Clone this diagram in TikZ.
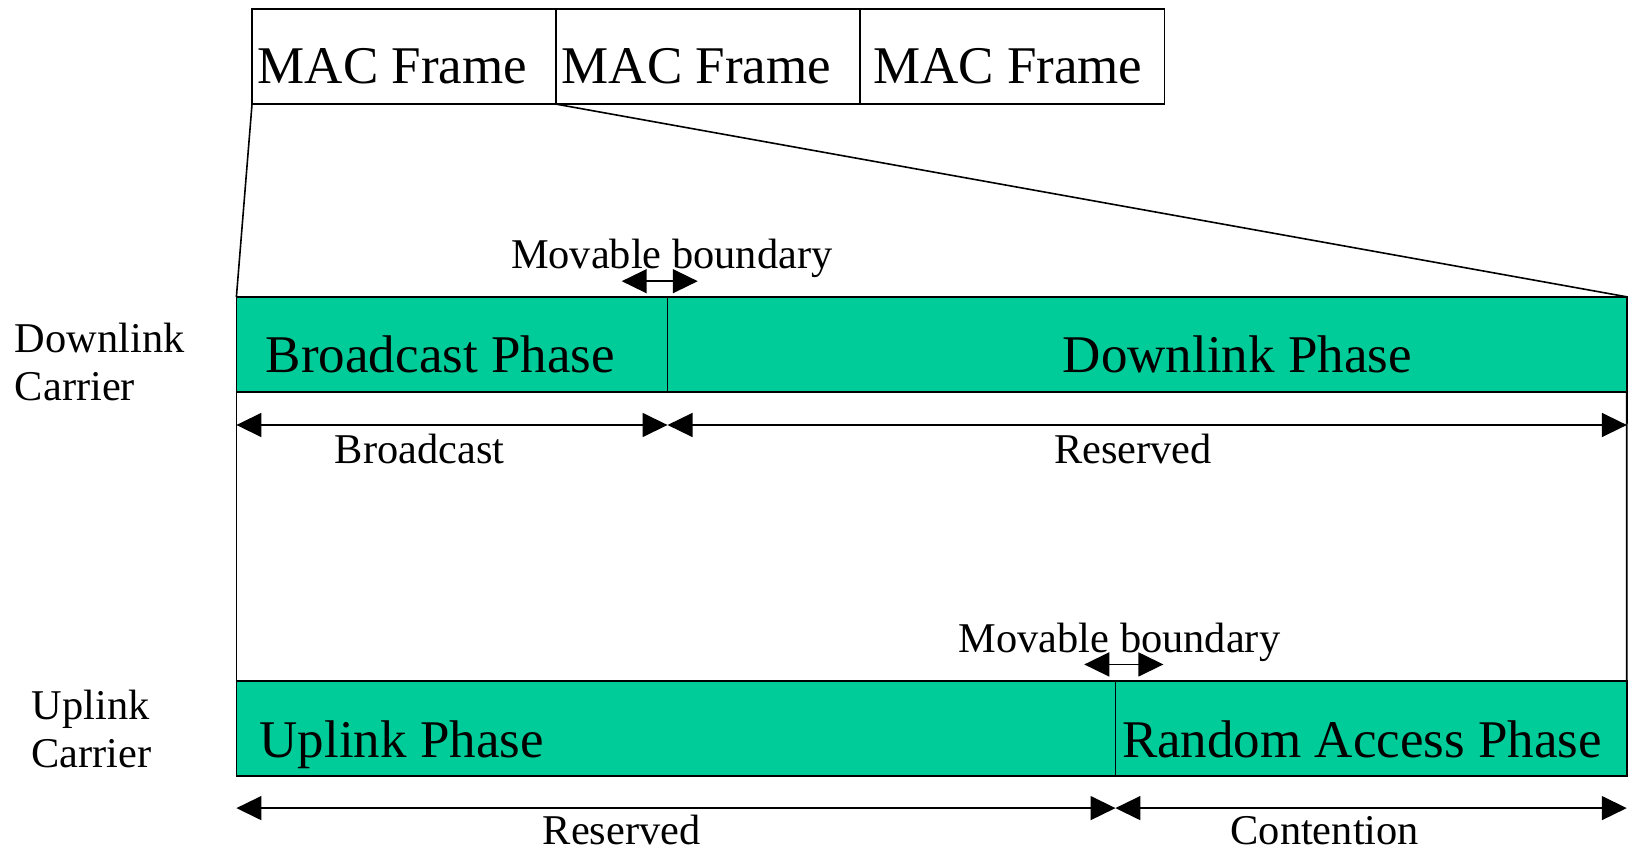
\documentclass[tikz,border=0pt]{standalone}
\usepackage{fontspec}
\setmainfont{Liberation Serif}
\usetikzlibrary{arrows.meta}
\definecolor{phasegreen}{HTML}{00CC99}
\newcommand\phasefont{\fontsize{26.5pt}{30pt}\selectfont}
\newcommand\notefont{\fontsize{21.2pt}{25pt}\selectfont}

\tikzset{
  framebox/.style={draw, line width=0.9pt, inner sep=0pt, outer sep=0pt,
    minimum width=152.1pt, minimum height=47.4pt, anchor=north west},
  phasebox/.style={draw, fill=phasegreen, line width=0.9pt, inner sep=0pt,
    outer sep=0pt, minimum height=47.4pt, anchor=north west},
  biglabel/.style={font=\phasefont, inner sep=0pt},
  smalllabel/.style={font=\notefont, inner sep=0pt},
  span/.style={line width=0.8pt, {Triangle[length=12.5pt,width=12pt]}-{Triangle[length=12.5pt,width=12pt]}},
}

\begin{document}
\begin{tikzpicture}[x=0.5208pt, y=-0.5208pt]
  \useasboundingbox (0,0) rectangle (1568,817);

  % MAC frames on top
  \node[framebox] (f1) at (242,9) {};
  \node[framebox] (f2) at (534,9) {};
  \node[framebox] (f3) at (826,9) {};
  \node[biglabel, anchor=base west] (t1) at (247,80) {MAC Frame};
  \node[biglabel, anchor=base west] (t2) at (539,80) {MAC Frame};
  \node[biglabel, anchor=base west] (t3) at (838,80) {MAC Frame};

  % downlink carrier
  \node[phasebox, minimum width=215.6pt] (bcast) at (227,285) {};
  \node[phasebox, minimum width=479.7pt] (dlink) at (641,285) {};
  \node[biglabel, anchor=base west] (tbcast) at (255,358) {Broadcast Phase};
  \node[biglabel, anchor=base] (tdlink) at (1188,358) {Downlink Phase};

  % uplink carrier
  \node[phasebox, minimum width=439.6pt] (ulink) at (227,654) {};
  \node[phasebox, minimum width=255.7pt] (racc) at (1071,654) {};
  \node[biglabel, anchor=base west] (tulink) at (249,727) {Uplink Phase};
  \node[biglabel, anchor=base west] (tracc) at (1077,727) {Random Access Phase};

  % carrier names
  \node[smalllabel, anchor=base west, align=left] (dcar) at (14,385) {Downlink\\[-0.8pt]Carrier};
  \node[smalllabel, anchor=base west, align=left] (ucar) at (30,737) {Uplink\\[-0.8pt]Carrier};

  % zoom lines and side walls
  \draw[line width=0.8pt] (f1.south west) -- (bcast.north west);
  \draw[line width=0.8pt] (f1.south east) -- (dlink.north east);
  \draw[line width=0.9pt] (bcast.south west) -- (ulink.north west);
  \draw[line width=0.9pt] (dlink.south east) -- (racc.north east);

  % movable boundaries
  \node[smalllabel, anchor=base] (mb1) at (645,258) {Movable boundary};
  \draw[span] ([shift={(-44,-15)}]bcast.north east) -- ([shift={(29,-15)}]bcast.north east);
  \node[smalllabel, anchor=base] (mb2) at (1075,627) {Movable boundary};
  \draw[span] ([shift={(-30,-16)}]ulink.north east) -- ([shift={(46,-16)}]ulink.north east);

  % spans below the carriers
  \draw[span] ([yshift=-16.7pt]bcast.south west) -- ([yshift=-16.7pt]bcast.south east);
  \draw[span] ([yshift=-16.7pt]dlink.south west) -- ([yshift=-16.7pt]dlink.south east);
  \node[smalllabel, anchor=base] (sbcast) at (403,445) {Broadcast};
  \node[smalllabel, anchor=base] (sres1) at (1088,445) {Reserved};
  \draw[span] ([yshift=-16.1pt]ulink.south west) -- ([yshift=-16.1pt]ulink.south east);
  \draw[span] ([yshift=-16.1pt]racc.south west) -- ([yshift=-16.1pt]racc.south east);
  \node[smalllabel, anchor=base] (sres2) at (597,811) {Reserved};
  \node[smalllabel, anchor=base] (scont) at (1272,811) {Contention};
\end{tikzpicture}
\end{document}
